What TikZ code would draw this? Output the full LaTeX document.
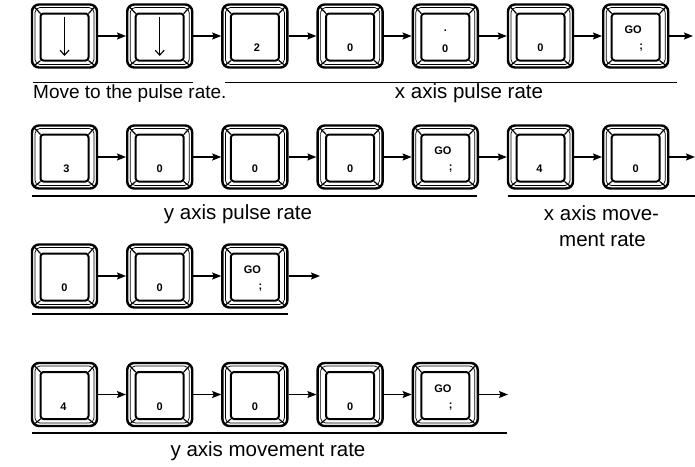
\documentclass[tikz,border=0pt]{standalone}
\usepackage{fontspec}
\setmainfont{Liberation Sans}
\usetikzlibrary{arrows.meta}

\tikzset{
  keycap/.style={draw, line width=2.4pt, rounded corners=7pt,
    minimum width=65pt, minimum height=63pt, inner sep=0pt,
    path picture={
      % thin rim just inside the outer edge
      \draw[line width=0.7pt, rounded corners=5pt]
        ([shift={(3pt,-3pt)}]path picture bounding box.north west) rectangle
        ([shift={(-3pt,3pt)}]path picture bounding box.south east);
      % top face of the key
      \draw[line width=2pt, rounded corners=3pt]
        ([shift={(8.5pt,-9pt)}]path picture bounding box.north west) rectangle
        ([shift={(-8.5pt,7pt)}]path picture bounding box.south east);
      % bevel edges
      \draw[line width=1.2pt]
        (path picture bounding box.north west) -- ++(8.5pt,-9pt)
        (path picture bounding box.north east) -- ++(-8.5pt,-9pt)
        (path picture bounding box.south west) -- ++(8.5pt,7pt)
        (path picture bounding box.south east) -- ++(-8.5pt,7pt);
    }},
  legend/.style={font=\fontsize{11}{12}\selectfont\bfseries, inner sep=0pt},
  conn/.style={line width=1.3pt, -{Stealth[length=9pt,width=7pt,inset=1.5pt]}},
  downarrow/.style={line width=1.1pt, -{Straight Barb[length=5pt,width=9pt]}},
  rule/.style={line width=1.7pt},
  caption/.style={font=\fontsize{20.5}{26}\selectfont, inner sep=0pt},
}

\begin{document}
\begin{tikzpicture}[x=1pt, y=-1pt]
  \useasboundingbox (0,0) rectangle (695,466);

  % ---------- row 1 ----------
  \node[keycap] (a1) at (64.5,36) {};
  \node[keycap] (a2) at (159.7,36) {};
  \node[keycap] (a3) at (254.9,36) {};
  \node[keycap] (a4) at (350.1,36) {};
  \node[keycap] (a5) at (445.3,36) {};
  \node[keycap] (a6) at (540.5,36) {};
  \node[keycap] (a7) at (635.7,36) {};
  \coordinate (a1t) at ([yshift=19pt]a1.center);
  \coordinate (a1b) at ([yshift=-20pt]a1.center);
  \coordinate (a2t) at ([yshift=19pt]a2.center);
  \coordinate (a2b) at ([yshift=-20pt]a2.center);
  \draw[downarrow] (a1t) -- (a1b);
  \draw[downarrow] (a2t) -- (a2b);
  \node[legend] (a3l) at ([xshift=2pt,yshift=-12pt]a3.center) {2};
  \node[legend] (a4l) at ([yshift=-12pt]a4.center) {0};
  \node[legend] (a5u) at ([yshift=5pt]a5.center) {.};
  \node[legend] (a5l) at ([yshift=-13pt]a5.center) {0};
  \node[legend] (a6l) at ([yshift=-12pt]a6.center) {0};
  \node[legend] (a7u) at ([xshift=-2.5pt,yshift=6pt]a7.center) {GO};
  \node[legend] (a7l) at ([xshift=5.5pt,yshift=-12pt]a7.center) {;};
  \coordinate (a8) at (693,36);
  \draw[conn] (a1) -- (a2);
  \draw[conn] (a2) -- (a3);
  \draw[conn] (a3) -- (a4);
  \draw[conn] (a4) -- (a5);
  \draw[conn] (a5) -- (a6);
  \draw[conn] (a6) -- (a7);
  \draw[conn] (a7) -- (a8);
  \draw[rule] (33,82.5) -- (193,82.5);
  \draw[rule] (225,82.5) -- (677,82.5);
  \node[caption, font=\fontsize{19}{24}\selectfont, anchor=base west] (capa1) at (33,98) {Move to the pulse rate.};
  \node[caption, anchor=base] (capa2) at (469,98) {x axis pulse rate};

  % ---------- row 2 ----------
  \node[keycap] (b1) at (64.5,157) {};
  \node[keycap] (b2) at (159.7,157) {};
  \node[keycap] (b3) at (254.9,157) {};
  \node[keycap] (b4) at (350.1,157) {};
  \node[keycap] (b5) at (445.3,157) {};
  \node[keycap] (b6) at (540.5,157) {};
  \node[keycap] (b7) at (635.7,157) {};
  \node[legend] (b1l) at ([xshift=2pt,yshift=-12pt]b1.center) {3};
  \node[legend] (b2l) at ([yshift=-12pt]b2.center) {0};
  \node[legend] (b3l) at ([yshift=-12pt]b3.center) {0};
  \node[legend] (b4l) at ([yshift=-12pt]b4.center) {0};
  \node[legend] (b5u) at ([xshift=-2.5pt,yshift=6pt]b5.center) {GO};
  \node[legend] (b5l) at ([xshift=5.5pt,yshift=-12pt]b5.center) {;};
  \node[legend] (b6l) at ([xshift=-1pt,yshift=-12pt]b6.center) {4};
  \node[legend] (b7l) at ([yshift=-12pt]b7.center) {0};
  \coordinate (b8) at (695,157);
  \draw[conn] (b1) -- (b2);
  \draw[conn] (b2) -- (b3);
  \draw[conn] (b3) -- (b4);
  \draw[conn] (b4) -- (b5);
  \draw[conn] (b5) -- (b6);
  \draw[conn] (b6) -- (b7);
  \draw[conn] (b7) -- (b8);
  \draw[rule] (32,196) -- (477,196);
  \draw[rule] (508,196) -- (695,196);
  \node[caption, anchor=base] (capb1) at (238,219) {y axis pulse rate};
  \node[caption, anchor=base] (capb2) at (601.5,220) {x axis move-};
  \node[caption, anchor=base] (capb3) at (602.5,246) {ment rate};

  % ---------- row 3 ----------
  \node[keycap] (c1) at (64.5,276) {};
  \node[keycap] (c2) at (159.7,276) {};
  \node[keycap] (c3) at (254.9,276) {};
  \node[legend] (c1l) at ([yshift=-12pt]c1.center) {0};
  \node[legend] (c2l) at ([yshift=-12pt]c2.center) {0};
  \node[legend] (c3u) at ([xshift=-2.5pt,yshift=6pt]c3.center) {GO};
  \node[legend] (c3l) at ([xshift=5.5pt,yshift=-12pt]c3.center) {;};
  \coordinate (c4) at (320,276);
  \draw[conn] (c1) -- (c2);
  \draw[conn] (c2) -- (c3);
  \draw[conn] (c3) -- (c4);
  \draw[rule] (32,314) -- (288,314);

  % ---------- row 4 ----------
  \node[keycap] (d1) at (64.5,394.5) {};
  \node[keycap] (d2) at (159.7,394.5) {};
  \node[keycap] (d3) at (254.9,394.5) {};
  \node[keycap] (d4) at (350.1,394.5) {};
  \node[keycap] (d5) at (445.3,394.5) {};
  \node[legend] (d1l) at ([xshift=-1pt,yshift=-12pt]d1.center) {4};
  \node[legend] (d2l) at ([yshift=-12pt]d2.center) {0};
  \node[legend] (d3l) at ([yshift=-12pt]d3.center) {0};
  \node[legend] (d4l) at ([yshift=-12pt]d4.center) {0};
  \node[legend] (d5u) at ([xshift=-2.5pt,yshift=6pt]d5.center) {GO};
  \node[legend] (d5l) at ([xshift=5.5pt,yshift=-12pt]d5.center) {;};
  \coordinate (d6) at (508,394.5);
  \draw[conn] (d1) -- (d2);
  \draw[conn] (d2) -- (d3);
  \draw[conn] (d3) -- (d4);
  \draw[conn] (d4) -- (d5);
  \draw[conn] (d5) -- (d6);
  \draw[rule] (32,433) -- (507,433);
  \node[caption, anchor=base] (capd) at (268,456) {y axis movement rate};
\end{tikzpicture}
\end{document}
